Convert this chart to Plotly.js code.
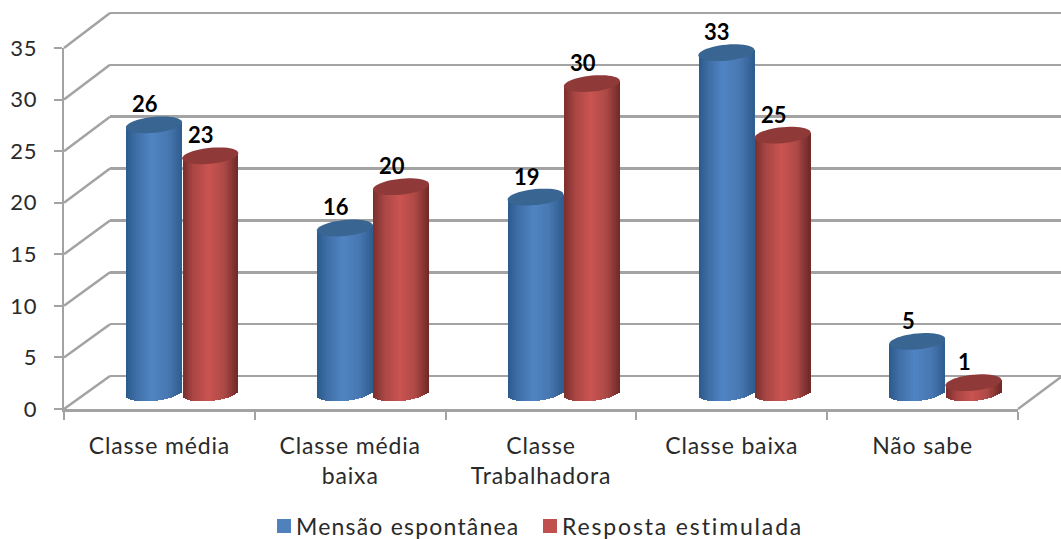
<!DOCTYPE html>
<html>
<head>
<meta charset="utf-8">
<script src="https://cdn.plot.ly/plotly-3.0.1.min.js"></script>
<style>
html,body{margin:0;padding:0;background:#fff;overflow:hidden;width:1061px;height:539px}
.x3tick text{letter-spacing:.85px}
.y3tick text{letter-spacing:.7px}
.legendtext{transform:translateX(-8px)}
.legend .scrollbox{clip-path:none !important}
.traces:nth-child(1) .legendtext{letter-spacing:1.2px}
.traces:nth-child(2) .legendtext{letter-spacing:1.85px}
</style>
</head>
<body>
<div id="chart" style="width:1061px;height:551px"></div>
<script>
const categories = ["Classe média", "Classe média<br>baixa", "Classe<br>Trabalhadora", "Classe baixa", "Não sabe"];
const mensaoEspontanea = [26, 16, 19, 33, 5];
const respostaEstimulada = [23, 20, 30, 25, 1];
const seriesNames = ["Mensão espontânea", "Resposta estimulada"];
const yTickValues = [0, 5, 10, 15, 20, 25, 30, 35];

const W = 1061, H = 551;   // 12px taller than the window, so the legend has room without shrinking the plot
const FONT = "Lato, 'Open Sans', sans-serif";
const GRID = "#a3a3a3", TEXT = "#2a2a2a";
const PXX = 191, PXY = 10.314;          // one category / one unit in pixels
const BAR_W = 55.5 / PXX, R_X = 28, R_Y = 8, TILT = 2.6, STRIPS = 28;
const domX = (a, b) => [a / W, b / W];
const domY = (bottom, top) => [1 - bottom / H, 1 - top / H];

function hex(c) { return [1, 3, 5].map(i => parseInt(c.slice(i, i + 2), 16)); }
function ramp(stops, t) {
  for (let i = 1; i < stops.length; i++) {
    if (t <= stops[i][0]) {
      const a = stops[i - 1], b = stops[i], f = (t - a[0]) / (b[0] - a[0]);
      const ca = hex(a[1]), cb = hex(b[1]);
      return "rgb(" + ca.map((v, k) => Math.round(v + (cb[k] - v) * f)).join(",") + ")";
    }
  }
  return stops[stops.length - 1][1];
}
const blueStops = [[-1, "#2c5a8c"], [-0.6, "#4070a8"], [-0.1, "#5083c2"], [0.5, "#4878b2"], [1, "#2f5c8e"]];
const redStops = [[-1, "#7a2f2d"], [-0.6, "#a94644"], [-0.05, "#ca5451"], [0.5, "#ad4946"], [1, "#6e2927"]];

const series = [
  { name: seriesNames[0], values: mensaoEspontanea, off: -0.149, stops: blueStops, cap: "#386592", legend: "#4f81bd" },
  { name: seriesNames[1], values: respostaEstimulada, off: 0.146, stops: redStops, cap: "#8f3a38", legend: "#c0504d" }
];

const traces = [];
// back wall subplot (drawn first so its grid stays behind the bars)
traces.push({ type: "scatter", x: [null], y: [null], xaxis: "x", yaxis: "y", showlegend: false, hoverinfo: "skip" });
// front axes
traces.push({ type: "bar", x: categories, y: categories.map(() => null), xaxis: "x3", yaxis: "y3", showlegend: false, hoverinfo: "skip" });

// cylinder bodies: vertical strips with a horizontal shading ramp
series.forEach(s => {
  const sw = BAR_W / STRIPS;
  for (let i = 0; i < STRIPS; i++) {
    const t = -1 + (i + 0.5) * 2 / STRIPS;
    const tiltUnits = TILT * t / PXY;       // right side sits higher
    const bottomUnits = (-R_Y * Math.sqrt(1 - t * t) + TILT * t) / PXY;
    traces.push({
      type: "bar", xaxis: "x2", yaxis: "y2", showlegend: false, hoverinfo: "skip", cliponaxis: false,
      x: s.values.map((v, k) => k + s.off),
      base: s.values.map(() => bottomUnits),
      y: s.values.map(v => v + tiltUnits - bottomUnits),
      width: s.values.map(() => sw * 1.25),
      offset: s.values.map(() => -BAR_W / 2 + i * sw),
      marker: { color: ramp(s.stops, t), line: { width: 0 } }
    });
  }
});
// legend entries
series.forEach(s => {
  traces.push({ type: "bar", name: s.name, x: [null], y: [null], xaxis: "x2", yaxis: "y2",
    marker: { color: s.legend, line: { color: s.legend, width: 2 } }, hoverinfo: "skip" });
});

const shapes = [];
// side-wall and floor lines, from front axis to back wall
const frontY = v => (409 - v * (361 / 35));
const backY = v => (376 - v * (363 / 35));
yTickValues.forEach(v => {
  shapes.push({ type: "line", xref: "paper", yref: "paper", layer: "below",
    x0: 64 / W, y0: 1 - frontY(v) / H, x1: 110 / W, y1: 1 - backY(v) / H,
    line: { color: GRID, width: 2.5 } });
});
shapes.push({ type: "line", xref: "paper", yref: "paper", layer: "below",
  x0: 1018 / W, y0: 1 - 409 / H, x1: 1061 / W, y1: 1 - 377 / H, line: { color: GRID, width: 2.5 } });

// elliptical tops of the cylinders
series.forEach(s => {
  s.values.forEach((v, k) => {
    let d = "";
    for (let a = 0; a < 48; a++) {
      const th = a / 48 * 2 * Math.PI;
      const x = k + s.off + R_X * Math.cos(th) / PXX;
      const y = v + (R_Y * Math.sin(th) + TILT * Math.cos(th)) / PXY;
      d += (a ? "L" : "M") + x.toFixed(5) + "," + y.toFixed(4);
    }
    shapes.push({ type: "path", xref: "x2", yref: "y2", layer: "above", path: d + "Z",
      fillcolor: s.cap, line: { width: 0 } });
  });
});

const annotations = [];
series.forEach(s => {
  s.values.forEach((v, k) => {
    annotations.push({ x: k + s.off, y: v, xref: "x2", yref: "y2", text: String(v), showarrow: false,
      xanchor: "center", yanchor: "middle", xshift: -9, yshift: 21,
      font: { family: FONT, size: 22, color: "#000", weight: 700 } });
  });
});

const layout = {
  width: W, height: H, autosize: false,
  margin: { l: 0, r: 0, t: 0, b: 0, pad: 0 },
  paper_bgcolor: "#fff", plot_bgcolor: "rgba(0,0,0,0)",
  barmode: "overlay", bargap: 0,
  font: { family: FONT, size: 21, color: TEXT },
  // back wall (range padded so the 0 and 35 gridlines are kept)
  xaxis: { domain: domX(110, 1061), range: [0, 1], visible: false, anchor: "y" },
  yaxis: { domain: domY(376 + 10.371, 13 - 10.371), range: [-1, 36], anchor: "x", tickmode: "array", tickvals: yTickValues,
    showgrid: true, gridcolor: GRID, gridwidth: 2.5, zeroline: false, showline: false, showticklabels: false, ticks: "" },
  // bar plane, half-way into the depth
  xaxis2: { domain: domX(87, 1041), range: [-0.5, 4.5], visible: false, anchor: "y2", fixedrange: true },
  yaxis2: { domain: domY(393 + 2 * PXY, 393 - 36 * PXY), range: [-2, 36], visible: false, anchor: "x2", fixedrange: true },
  // front axes
  xaxis3: { domain: domX(64, 1018), type: "category", categoryorder: "array", categoryarray: categories,
    range: [-0.5, 4.5], anchor: "y3", tickson: "boundaries", ticks: "outside", ticklen: 8, tickwidth: 2, tickcolor: GRID,
    showline: true, linecolor: GRID, linewidth: 2.5, showgrid: false, zeroline: false,
    tickfont: { family: FONT, size: 23, color: TEXT }, tickangle: 0, ticklabelstandoff: 15 },
  yaxis3: { domain: domY(409, 48), range: [0, 35], anchor: "x3", tickmode: "array", tickvals: yTickValues,
    ticks: "outside", ticklen: 8, tickwidth: 2, tickcolor: GRID, showline: true, linecolor: GRID, linewidth: 2.5,
    showgrid: false, zeroline: false, tickfont: { family: FONT, size: 22, color: TEXT }, ticklabelstandoff: 12 },
  showlegend: true,
  legend: { orientation: "h", x: 264 / W, xanchor: "left", y: 1 - 526 / H, yanchor: "middle",
    entrywidth: 221, entrywidthmode: "pixels",
    bgcolor: "rgba(0,0,0,0)", font: { family: FONT, size: 23, color: TEXT }, itemclick: false, itemdoubleclick: false,
    traceorder: "normal" },
  shapes, annotations
};

Plotly.newPlot("chart", traces, layout, { displayModeBar: false, staticPlot: true });
</script>
</body>
</html>
